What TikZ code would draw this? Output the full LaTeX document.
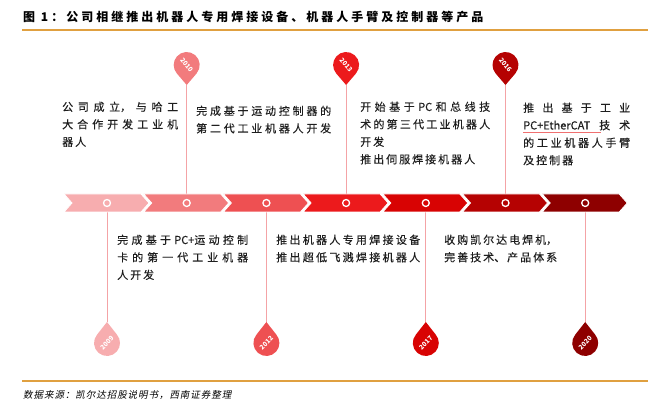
\documentclass[tikz,border=0pt]{standalone}
\usepackage{fontspec}
\setmainfont{Noto Sans CJK SC}
\newfontfamily\bodyfont[FakeBold=0.35]{Noto Sans CJK SC}
\newfontfamily\titlefont[LetterSpace=25]{Noto Sans CJK SC}
\newfontfamily\srcfont[FakeSlant=0.2,LetterSpace=10]{Noto Sans CJK SC}
\XeTeXlinebreaklocale "zh"
\XeTeXlinebreakskip=2pt plus 30pt
\definecolor{c1}{HTML}{F7ADAF}
\definecolor{c2}{HTML}{F27B7D}
\definecolor{c3}{HTML}{EE5052}
\definecolor{c4}{HTML}{EC1A1C}
\definecolor{c5}{HTML}{D80303}
\definecolor{c6}{HTML}{B50202}
\definecolor{c7}{HTML}{8E0000}
\definecolor{linec}{HTML}{F4A3A6}
\definecolor{goldline}{HTML}{E0A040}
\definecolor{txtc}{HTML}{1E1E1E}
\definecolor{ulc}{HTML}{F07070}
\begin{document}
\begin{tikzpicture}[x=1pt,y=1pt,
  conn/.style={draw=linec, line width=0.9pt},
  segbox/.style={draw=white, line width=0.8pt},
  ring/.style={circle, draw=white, line width=1.3pt, minimum size=7pt, inner sep=0pt},
  yr/.style={text=white, font=\fontsize{6.5}{7}\selectfont\bfseries, inner sep=0pt},
  txt/.style={anchor=north west, inner sep=0pt, align=justify, font=\bodyfont\fontsize{11}{17.5}\selectfont, text=txtc},
  rule/.style={draw=goldline, line width=1.1pt}]
\useasboundingbox (0,0) rectangle (664,407);
% marker positions
\foreach \i in {1,...,7}{
  \coordinate (m\i) at ({107+79.7*(\i-1)}, 204);
}
% top pins
\foreach \i/\yr/\col in {2/2010/c2, 4/2013/c4, 6/2016/c6}{
  \path (m\i) ++(0,138) coordinate (pc\yr);
  \path (m\i) ++(0,118) coordinate (pt\yr);
  \draw[conn] (pt\yr) -- (m\i);
  \fill[\col] (pt\yr) -- ([shift={(-40.5:13)}]pc\yr) arc[start angle=-40.5, end angle=220.5, radius=13] -- cycle;
  \node[yr, rotate=-50] (y\yr) at (pc\yr) {\yr};
}
% bottom pins
\foreach \i/\yr/\col in {1/2009/c1, 3/2012/c3, 5/2017/c5, 7/2020/c7}{
  \path (m\i) ++(0,-140) coordinate (pc\yr);
  \path (m\i) ++(0,-119) coordinate (pt\yr);
  \draw[conn] (m\i) -- (pt\yr);
  \fill[\col] (pt\yr) -- ([shift={(139.5:13)}]pc\yr) arc[start angle=139.5, end angle=400.5, radius=13] -- cycle;
  \node[yr, rotate=45] (y\yr) at (pc\yr) {\yr};
}
% arrow band
\foreach \i/\col in {1/c1,2/c2,3/c3,4/c4,5/c5,6/c6,7/c7}{
  \pgfmathsetmacro\L{107+79.7*(\i-1)-43}
  \filldraw[segbox, fill=\col] (\L,213) -- ({\L+77},213) -- ({\L+85},204) -- ({\L+77},195) -- (\L,195) -- ({\L+8},204) -- cycle;
}
\foreach \i in {1,...,7}{
  \node[ring] (mk\i) at (m\i) {};
}
% texts
\node[txt, text width=116pt] (t1) at (62,305.5) {公司成立，与哈工\linebreak 大合作开发工业机\linebreak 器人};
\node[txt, text width=135pt] (t2) at (196,301.5) {\parfillskip=0pt 完成基于运动控制器的\linebreak 第二代工业机器人开发\par};
\node[txt, text width=130pt] (t3) at (360,305.5) {开始基于PC和总线技\linebreak 术的第三代工业机器人\linebreak 开发\\推出伺服焊接机器人};
\node[txt, text width=107pt] (t4) at (523,304.5) {推出基于工业\linebreak PC+EtherCAT\hspace{2pt plus 30pt}技术\linebreak 的工业机器人手臂\linebreak 及控制器};
\draw[draw=ulc, line width=0.8pt] (523,275) -- (601,275);
\node[txt, text width=131pt] (b1) at (117,172.5) {完成基于PC+运动控制\linebreak 卡的第一代工业机器\linebreak 人开发};
\node[txt, text width=144pt] (b2) at (276,172.5) {\parfillskip=0pt 推出机器人专用焊接设备\linebreak 推出超低飞溅焊接机器人\par};
\node[txt, text width=120pt] (b3) at (444,172.5) {收购凯尔达电焊机，\\完善技术、产品体系};
% title and source
\node[anchor=west, inner sep=0pt, font=\titlefont\fontsize{12}{14}\selectfont\bfseries] (title) at (23,390) {图 1：公司相继推出机器人专用焊接设备、机器人手臂及控制器等产品};
\draw[rule] (22,377) -- (648,377);
\draw[rule] (22,26) -- (648,26);
\node[anchor=west, inner sep=0pt, font=\srcfont\fontsize{9.5}{12}\selectfont] (src) at (23,12) {数据来源：凯尔达招股说明书，西南证券整理};
\end{tikzpicture}
\end{document}
